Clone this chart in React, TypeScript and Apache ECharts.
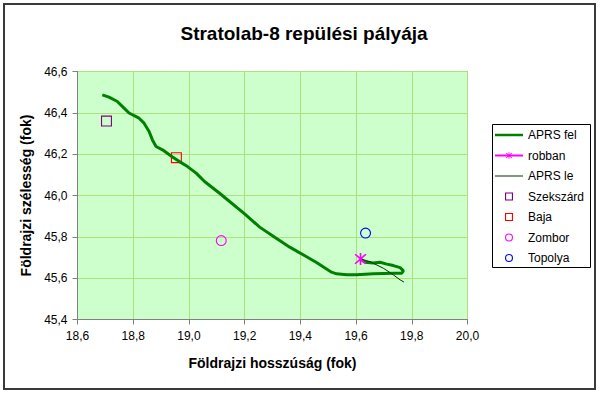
import React, { useEffect, useRef } from "react";
import * as echarts from "echarts";

const FONT = "'Liberation Sans', Arial, sans-serif";

// APRS ascent track (lon, lat)
const felLon = [18.689, 18.713, 18.743, 18.767, 18.785, 18.821, 18.839, 18.857, 18.869, 18.882, 18.905, 18.941, 18.966, 18.995, 19.026, 19.056, 19.110, 19.146, 19.200, 19.254, 19.308, 19.362, 19.410, 19.458, 19.512, 19.530, 19.566, 19.602, 19.662, 19.734, 19.764, 19.770, 19.758, 19.734, 19.710, 19.686, 19.662, 19.632, 19.616];
const felLat = [46.487, 46.476, 46.455, 46.423, 46.399, 46.374, 46.350, 46.310, 46.269, 46.237, 46.221, 46.186, 46.164, 46.140, 46.108, 46.068, 46.011, 45.971, 45.911, 45.847, 45.798, 45.750, 45.713, 45.676, 45.629, 45.621, 45.616, 45.616, 45.621, 45.624, 45.624, 45.635, 45.651, 45.661, 45.668, 45.677, 45.673, 45.677, 45.693];

// APRS descent track
const leLon = [19.616, 19.650, 19.698, 19.734, 19.758, 19.772];
const leLat = [45.693, 45.680, 45.648, 45.616, 45.592, 45.581];

// burst point
const robbanLon = [19.616];
const robbanLat = [45.693];

// towns
const townNames = ["Szekszárd", "Baja", "Zombor", "Topolya"];
const townLon = [18.704, 18.955, 19.116, 19.634];
const townLat = [46.360, 46.183, 45.782, 45.818];
const townShapes = ["square", "square", "circle", "circle"];
const townColors = ["#800080", "#FF0000", "#FF00FF", "#0000FF"];

const xTicks = { min: 18.6, max: 20.0, interval: 0.2 };
const yTicks = { min: 45.4, max: 46.6, interval: 0.2 };

const ASTERISK =
  "path://M8.8,0 L11.2,0 L11.2,20 L8.8,20 Z M2.85,1.15 L18.85,17.15 L17.15,18.85 L1.15,2.85 Z M17.15,1.15 L18.85,2.85 L2.85,18.85 L1.15,17.15 Z";
const SQUARE_ICON = "path://M0,0 L10,0 L10,10 L0,10 Z M1.4,1.4 L1.4,8.6 L8.6,8.6 L8.6,1.4 Z";
const CIRCLE_ICON =
  "path://M5,0 A5,5 0 1,1 5,10 A5,5 0 1,1 5,0 Z M5,1.4 A3.6,3.6 0 1,0 5,8.6 A3.6,3.6 0 1,0 5,1.4 Z";
const SQUARE_MARK = "path://M0,0 L11,0 L11,11 L0,11 Z M1.1,1.1 L1.1,9.9 L9.9,9.9 L9.9,1.1 Z";
const CIRCLE_MARK =
  "path://M5.5,0 A5.5,5.5 0 1,1 5.5,11 A5.5,5.5 0 1,1 5.5,0 Z M5.5,1.1 A4.4,4.4 0 1,0 5.5,9.9 A4.4,4.4 0 1,0 5.5,1.1 Z";
const THICK_LINE_ICON = "path://M0,0 L28,0 L28,2.5 L0,2.5 Z";
const THIN_LINE_ICON = "path://M0,0 L28,0 L28,1 L0,1 Z";

const zip = (a: number[], b: number[]) => a.map((v, i) => [v, b[i]]);
const comma = (v: number) => v.toFixed(1).replace(".", ",");

export default function App() {
  const ref = useRef<HTMLDivElement>(null);
  useEffect(() => {
    if (!ref.current) return;
    const chart = echarts.init(ref.current, undefined, { renderer: "svg" });
    const axisCommon = {
      type: "value" as const,
      nameLocation: "middle" as const,
      nameTextStyle: { fontFamily: FONT, fontSize: 14, fontWeight: "bold" as const, color: "#000" },
      axisLine: { show: true, lineStyle: { color: "#808080", width: 1 } },
      axisTick: { show: true, inside: false, length: 5, lineStyle: { color: "#808080" } },
      axisLabel: { fontFamily: FONT, fontSize: 12, color: "#000", formatter: comma },
      splitLine: { show: true, lineStyle: { color: "#b0e07e", width: 1 } },
    };
    chart.setOption({
      animation: false,
      backgroundColor: "#fff",
      title: {
        text: "Stratolab-8 repülési pályája",
        left: 299,
        textAlign: "center",
        top: 19,
        textStyle: { fontFamily: FONT, fontSize: 19, fontWeight: "bold", color: "#000" },
      },
      grid: {
        left: 77.5,
        top: 71.5,
        right: 600 - 467.5,
        bottom: 394 - 319.5,
        show: true,
        backgroundColor: "#CCFFCC",
        borderColor: "#808080",
        borderWidth: 1,
        containLabel: false,
      },
      xAxis: {
        ...axisCommon,
        ...xTicks,
        name: "Földrajzi hosszúság (fok)",
        nameGap: 36,
        axisLabel: { ...axisCommon.axisLabel, margin: 10 },
      },
      yAxis: {
        ...axisCommon,
        ...yTicks,
        name: "Földrajzi szélesség (fok)",
        nameGap: 45,
        nameRotate: 90,
        axisLabel: { ...axisCommon.axisLabel, margin: 10 },
      },
      legend: {
        orient: "vertical",
        left: 494,
        top: 128,
        padding: 0,
        itemWidth: 28,
        itemHeight: 8,
        itemGap: 6.5,
        symbolKeepAspect: true,
        textStyle: { fontFamily: FONT, fontSize: 12, color: "#000", lineHeight: 14 },
        data: [
          { name: "APRS fel", icon: THICK_LINE_ICON },
          { name: "robban" },
          { name: "APRS le", icon: THIN_LINE_ICON },
          ...townNames.map((n, i) => ({
            name: n,
            icon: townShapes[i] === "square" ? SQUARE_ICON : CIRCLE_ICON,
            itemStyle: { color: townColors[i], borderWidth: 0 },
          })),
        ],
      },
      graphic: [
        {
          type: "rect",
          shape: { x: 492.5, y: 124.5, width: 98, height: 143 },
          style: { fill: "none", stroke: "#000", lineWidth: 1 },
          silent: true,
        },
        {
          type: "rect",
          shape: { x: 4, y: 4, width: 591, height: 385 },
          style: { fill: "none", stroke: "#3a3a3a", lineWidth: 2 },
          silent: true,
        },
      ],
      series: [
        ...townNames.map((n, i) => ({
          name: n,
          type: "scatter",
          data: [[townLon[i], townLat[i]]],
          symbol: townShapes[i] === "square" ? SQUARE_MARK : CIRCLE_MARK,
          symbolSize: 11,
          itemStyle: { color: townColors[i], borderWidth: 0, opacity: 1 },
          z: 2,
        })),
        {
          name: "APRS fel",
          type: "line",
          data: zip(felLon, felLat),
          symbol: "none",
          lineStyle: { color: "#008000", width: 3 },
          itemStyle: { color: "#008000" },
          z: 3,
        },
        {
          name: "APRS le",
          type: "line",
          data: zip(leLon, leLat),
          symbol: "none",
          lineStyle: { color: "#003300", width: 1 },
          itemStyle: { color: "#003300" },
          z: 4,
        },
        {
          name: "robban",
          type: "line",
          data: zip(robbanLon, robbanLat),
          symbol: ASTERISK,
          symbolSize: 12,
          showSymbol: true,
          lineStyle: { color: "#FF00FF", width: 1 },
          itemStyle: { color: "#FF00FF" },
          z: 5,
        },
      ],
    });
    return () => chart.dispose();
  }, []);
  return (
    <div
      ref={ref}
      style={{ position: "fixed", left: 0, top: 0, width: 600, height: 394 }}
    />
  );
}
